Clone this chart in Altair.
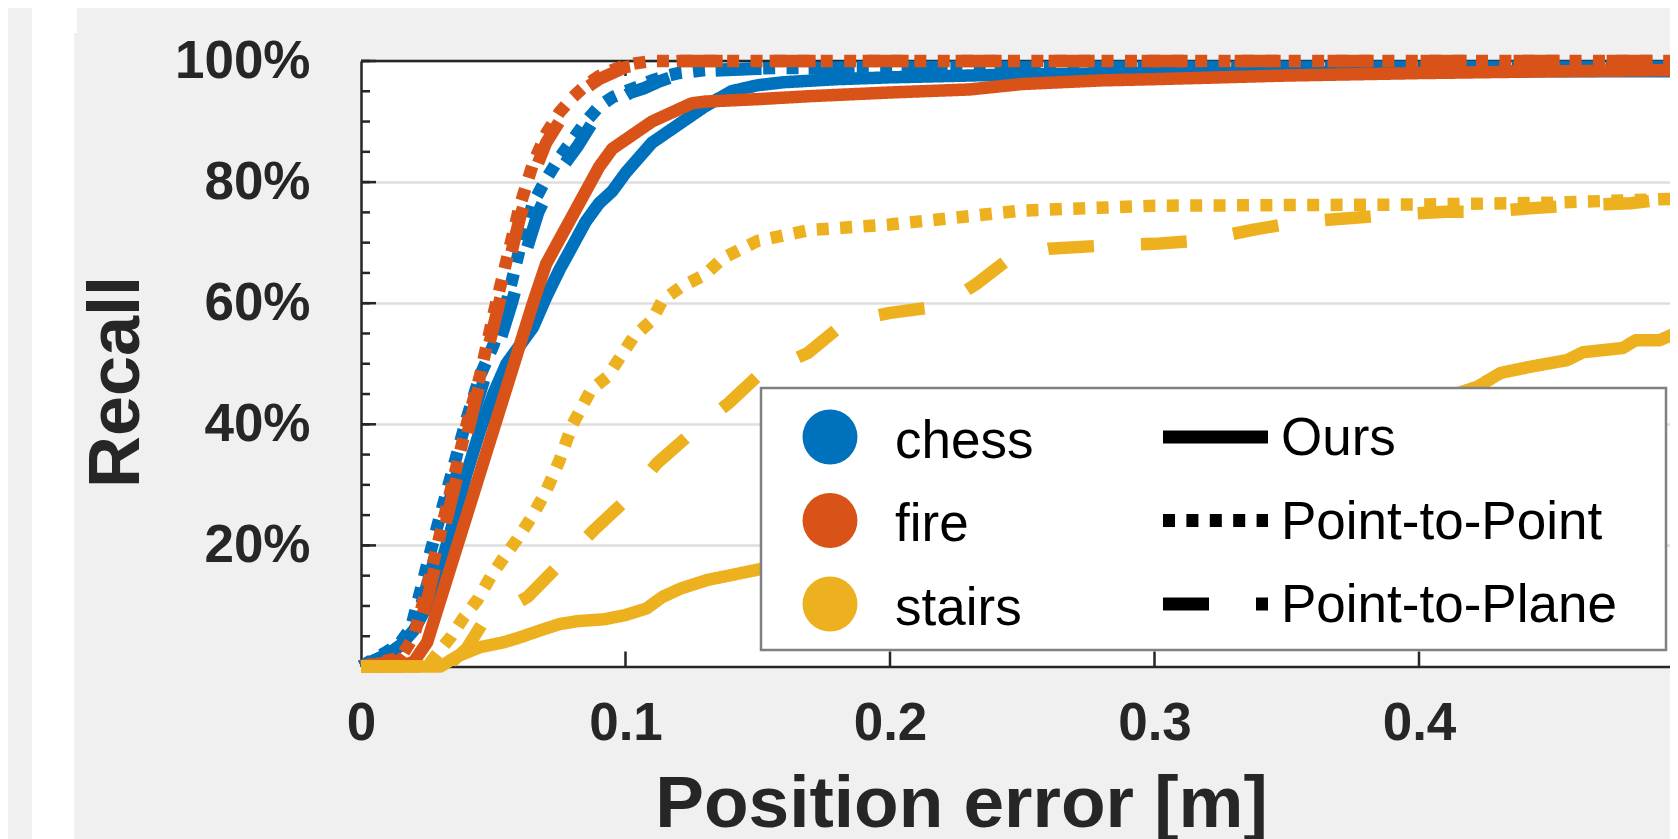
import altair as alt
import pandas as pd

# ---------------- data ----------------
DATASETS = ["chess", "fire", "stairs"]
METHODS = ["Ours", "Point-to-Point", "Point-to-Plane"]

chess_ours_x = [0, 0.01, 0.015, 0.02, 0.025, 0.03, 0.035, 0.04, 0.045, 0.05, 0.055, 0.06, 0.065, 0.07, 0.075,
                0.08, 0.085, 0.09, 0.095, 0.1, 0.105, 0.11, 0.115, 0.12, 0.125, 0.13, 0.14, 0.15, 0.16, 0.18,
                0.2, 0.25, 0.3, 0.35, 0.4, 0.45, 0.5]
chess_ours_y = [0, 2, 3.5, 6, 10, 16.5, 24, 32, 39, 45, 50, 53, 56, 61, 65.5,
                69.5, 73.5, 76.5, 78.5, 81.5, 84, 86.5, 88, 89.5, 91, 92.5, 95, 96, 96.5, 97,
                97.3, 97.8, 98, 98.1, 98.2, 98.3, 98.3]

chess_p2p_x = [0, 0.01, 0.015, 0.019, 0.0225, 0.026, 0.03, 0.035, 0.04, 0.045, 0.05, 0.055, 0.06, 0.065, 0.07,
               0.075, 0.08, 0.085, 0.09, 0.095, 0.1, 0.105, 0.11, 0.115, 0.12, 0.13, 0.15, 0.2, 0.3, 0.4, 0.5]
chess_p2p_y = [0, 2.5, 4, 6.5, 12.5, 18.5, 25, 33, 41, 48, 53, 60, 69, 76.5, 80.5,
               84, 87, 90, 92.5, 94, 95, 95.8, 96.8, 97.5, 98, 98.5, 98.8, 99, 99, 99, 99]

chess_p2pl_x = [0, 0.01, 0.015, 0.02, 0.024, 0.028, 0.032, 0.037, 0.042, 0.047, 0.052, 0.057, 0.062, 0.067,
                0.072, 0.077, 0.082, 0.087, 0.092, 0.097, 0.102, 0.107, 0.112, 0.117, 0.122, 0.132, 0.15, 0.2,
                0.3, 0.4, 0.5]
chess_p2pl_y = [0, 2, 3.5, 6, 12, 18, 25, 33, 41, 48, 53, 60, 68, 75, 79.5,
                83, 86, 89.5, 92, 93.5, 94.8, 95.5, 96.5, 97.3, 97.8, 98.4, 98.7, 98.9, 99, 99, 99]

fire_ours_x = [0, 0.015, 0.02, 0.025, 0.03, 0.035, 0.04, 0.045, 0.05, 0.055, 0.06, 0.065, 0.07, 0.075, 0.08,
               0.085, 0.09, 0.095, 0.1, 0.105, 0.11, 0.115, 0.12, 0.125, 0.13, 0.14, 0.15, 0.17, 0.2, 0.23,
               0.25, 0.28, 0.3, 0.35, 0.4, 0.45, 0.5]
fire_ours_y = [0, 0, 0.8, 4, 11, 18, 25, 32, 39, 46, 53, 60, 66.5, 70.5, 74.5,
               78.5, 82.5, 85.5, 87, 88.5, 90, 91, 92, 93, 93.3, 93.5, 93.7, 94.2, 94.8, 95.3,
               96.2, 96.8, 97, 97.6, 98, 98.3, 98.5]

fire_p2p_x = [0, 0.015, 0.02, 0.025, 0.03, 0.035, 0.04, 0.045, 0.05, 0.055, 0.06, 0.065, 0.07, 0.075, 0.08,
              0.085, 0.09, 0.095, 0.1, 0.105, 0.11, 0.2, 0.3, 0.4, 0.5]
fire_p2p_y = [0, 1.5, 5, 13, 22, 31, 40, 48, 58, 67, 76, 83, 88, 91.5, 94,
              96, 97.5, 98.5, 99.3, 99.7, 100, 100, 100, 100, 100]

fire_p2pl_x = [0, 0.015, 0.02, 0.025, 0.03, 0.035, 0.04, 0.045, 0.05, 0.055, 0.06, 0.065, 0.07, 0.075, 0.08,
               0.085, 0.09, 0.095, 0.1, 0.11, 0.12, 0.2, 0.3, 0.4, 0.5]
fire_p2pl_y = [0, 1, 4, 11, 20, 29, 38, 47, 56, 65, 74, 81, 86.5, 90, 93,
               95.5, 97, 98, 99, 99.7, 100, 100, 100, 100, 100]

stairs_ours_x = [0, 0.03, 0.036, 0.045, 0.054, 0.06, 0.068, 0.075, 0.082, 0.092, 0.1, 0.108, 0.114, 0.121,
                 0.131, 0.14, 0.15, 0.2, 0.25, 0.3, 0.35, 0.4, 0.422, 0.431, 0.442, 0.456, 0.462, 0.477,
                 0.482, 0.491, 0.5]
stairs_ours_y = [0, 0, 1.6, 3.2, 4, 4.8, 6, 7, 7.5, 7.8, 8.5, 9.6, 11.5, 12.9,
                 14.3, 15.1, 16, 20.5, 26, 31.5, 37, 43, 46.2, 48.5, 49.5, 50.6, 51.9, 52.6,
                 53.9, 53.9, 55.6]

stairs_p2p_x = [0, 0.025, 0.029, 0.034, 0.039, 0.044, 0.049, 0.054, 0.059, 0.065, 0.07, 0.075, 0.08, 0.087,
                0.093, 0.098, 0.103, 0.11, 0.114, 0.121, 0.13, 0.137, 0.15, 0.17, 0.2, 0.25, 0.3, 0.35,
                0.4, 0.45, 0.5]
stairs_p2p_y = [0, 0, 2.2, 4.9, 8.2, 11, 14.8, 18, 21, 25, 29, 34, 40, 45.7,
                47.8, 51.1, 54.4, 57.2, 60.5, 62.7, 64.7, 67.5, 70.3, 72.1, 73, 75.3, 76.1, 76.2,
                76.3, 76.6, 77.3]

stairs_p2pl_x = [0, 0.03, 0.035, 0.04, 0.046, 0.055, 0.063, 0.074, 0.08, 0.088, 0.099, 0.105, 0.112, 0.125,
                 0.139, 0.151, 0.16, 0.169, 0.181, 0.19, 0.2, 0.217, 0.225, 0.233, 0.247, 0.26, 0.28, 0.3,
                 0.318, 0.337, 0.354, 0.372, 0.39, 0.41, 0.425, 0.443, 0.461, 0.48, 0.5]
stairs_p2pl_y = [0, 0, 1, 3, 7.2, 9.5, 11.5, 16.4, 19, 22.5, 27, 30, 33.6, 38.6,
                 43.5, 48.4, 50, 51.8, 56.1, 57.5, 58.4, 59.4, 61, 63.3, 68, 69, 69.5, 69.8,
                 70.4, 72.1, 73.4, 74, 74.6, 75.1, 75.1, 75.7, 76.2, 76.5, 77.5]

SERIES = {
    ("chess", "Ours"): (chess_ours_x, chess_ours_y),
    ("chess", "Point-to-Point"): (chess_p2p_x, chess_p2p_y),
    ("chess", "Point-to-Plane"): (chess_p2pl_x, chess_p2pl_y),
    ("fire", "Ours"): (fire_ours_x, fire_ours_y),
    ("fire", "Point-to-Point"): (fire_p2p_x, fire_p2p_y),
    ("fire", "Point-to-Plane"): (fire_p2pl_x, fire_p2pl_y),
    ("stairs", "Ours"): (stairs_ours_x, stairs_ours_y),
    ("stairs", "Point-to-Point"): (stairs_p2p_x, stairs_p2p_y),
    ("stairs", "Point-to-Plane"): (stairs_p2pl_x, stairs_p2pl_y),
}

X_TICKS = [0, 0.1, 0.2, 0.3, 0.4]
X_TICK_MARKS = [0.1, 0.2, 0.3, 0.4]
Y_LABEL_TICKS = [20, 40, 60, 80, 100]
Y_MAJOR = [0, 20, 40, 60, 80, 100]
Y_MINOR = list(range(0, 101, 5))

# ---------------- styles / layout ----------------
COLORS = ["#0072BD", "#D95319", "#EDB120"]
DASHES = [[1, 0], [12, 11.4], [46, 47]]
INK = "#262626"
FONT = "Liberation Sans"
LW = 12.5

W = 1309
H = 605.5
PX_PER_UNIT = 2645.0
XMAX = W / PX_PER_UNIT
XRIGHT = 0.5 * PX_PER_UNIT  # right frame position (off-screen)

xscale = alt.Scale(domain=[0, XMAX], nice=False, zero=False)
yscale = alt.Scale(domain=[0, 100], nice=False, zero=False)

rows = []
for (ds, m), (xs, ys) in SERIES.items():
    for xv, yv in zip(xs, ys):
        rows.append({"dataset": ds, "method": m, "x": xv, "recall": yv})
df = pd.DataFrame(rows)

one = pd.DataFrame({"k": [0]})

X_AXIS = alt.Axis(
    values=X_TICKS, format=".1~f", ticks=False, tickSize=0, grid=False,
    domain=True, domainColor=INK, domainWidth=2.5,
    labelFont=FONT, labelFontWeight="bold", labelFontSize=53, labelColor=INK,
    labelPadding=31, labelFlush=False, labelOverlap=False,
    title="Position error [m]", titleFont=FONT, titleFontWeight="bold", titleFontSize=73,
    titleColor=INK, titleX=600, titleY=160, titleAlign="center", titleBaseline="alphabetic",
)
Y_AXIS = alt.Axis(
    values=Y_LABEL_TICKS, labelExpr="datum.value + '%'", ticks=False, tickSize=0,
    grid=True, gridColor="#dedede", gridWidth=2.5,
    domain=True, domainColor=INK, domainWidth=2.5,
    labelFont=FONT, labelFontWeight="bold", labelFontSize=53, labelColor=INK,
    labelPadding=51, labelOverlap=False, labelFlush=False,
    title="Recall", titleFont=FONT, titleFontWeight="bold", titleFontSize=72, titleColor=INK,
    titleX=-245, titleY=320.5, titleAngle=270, titleAlign="center", titleBaseline="middle",
)


def xenc():
    return alt.X("x:Q", scale=xscale, axis=X_AXIS)


def yenc():
    return alt.Y("recall:Q", scale=yscale, axis=Y_AXIS)


layers = []

# white page strip at the far left (part of the screenshot backdrop)
layers.append(
    alt.Chart(one).mark_rect(color="white").encode(
        x=alt.value(-329), x2=alt.value(-287), y=alt.value(-53), y2=alt.value(H + 190)
    )
)
layers.append(
    alt.Chart(one).mark_rect(color="white").encode(
        x=alt.value(-329), x2=alt.value(-284), y=alt.value(-53), y2=alt.value(-28)
    )
)

# inward ticks (MATLAB style)
layers.append(
    alt.Chart(pd.DataFrame({"recall": Y_MINOR})).mark_rule(color=INK, strokeWidth=2.5).encode(
        y=yenc(), x=alt.value(0), x2=alt.value(9))
)
layers.append(
    alt.Chart(pd.DataFrame({"recall": Y_MAJOR})).mark_rule(color=INK, strokeWidth=2.5).encode(
        y=yenc(), x=alt.value(0), x2=alt.value(15))
)
layers.append(
    alt.Chart(pd.DataFrame({"x": X_TICK_MARKS})).mark_rule(color=INK, strokeWidth=2.5).encode(
        x=xenc(), y=alt.value(H), y2=alt.value(H - 15))
)
layers.append(
    alt.Chart(pd.DataFrame({"x": X_TICK_MARKS})).mark_rule(color=INK, strokeWidth=2.5).encode(
        x=xenc(), y=alt.value(0), y2=alt.value(15))
)
# top frame line
layers.append(
    alt.Chart(one).mark_rule(color=INK, strokeWidth=2.5).encode(
        x=alt.value(0), x2=alt.value(XRIGHT), y=alt.value(0))
)

# data lines
for i, ds in enumerate(DATASETS):
    for j, m in enumerate(METHODS):
        layers.append(
            alt.Chart(df).transform_filter(
                (alt.datum.dataset == ds) & (alt.datum.method == m)
            ).mark_line(
                color=COLORS[i], strokeWidth=LW, strokeDash=DASHES[j],
                strokeCap="butt", strokeJoin="round",
            ).encode(
                x=xenc(),
                y=yenc(),
                order=alt.Order("x:Q"),
            )
        )

# legend (drawn by hand, MATLAB look)
LEG_X0, LEG_X1, LEG_Y0, LEG_Y1 = 400, 1305, 327, 589
ROW0, ROW_STEP = 376, 83.5
layers.append(
    alt.Chart(one).mark_rect(fill="white", stroke="#808080", strokeWidth=2.5).encode(
        x=alt.value(LEG_X0), x2=alt.value(LEG_X1), y=alt.value(LEG_Y0), y2=alt.value(LEG_Y1))
)
for i, ds in enumerate(DATASETS):
    cy = ROW0 + i * ROW_STEP
    layers.append(
        alt.Chart(one).mark_circle(size=3020, opacity=1, color=COLORS[i]).encode(
            x=alt.value(469), y=alt.value(cy))
    )
    layers.append(
        alt.Chart(pd.DataFrame({"label": [ds]})).mark_text(
            align="left", baseline="alphabetic", font=FONT, fontSize=53, color="black"
        ).encode(x=alt.value(534), y=alt.value(cy + 20.5), text="label:N")
    )
for j, m in enumerate(METHODS):
    cy = ROW0 + j * ROW_STEP
    layers.append(
        alt.Chart(one).mark_rule(color="black", strokeWidth=13, strokeDash=DASHES[j], strokeCap="butt").encode(
            x=alt.value(802), x2=alt.value(907), y=alt.value(cy))
    )
    layers.append(
        alt.Chart(pd.DataFrame({"label": [m]})).mark_text(
            align="left", baseline="alphabetic", font=FONT, fontSize=53, color="black"
        ).encode(x=alt.value(920), y=alt.value(cy + 18), text="label:N")
    )

chart = alt.layer(*layers).properties(
    width=W, height=H,
    autosize=alt.AutoSizeParams(type="none"),
    padding={"left": 353, "top": 53, "right": 0, "bottom": 172},
).configure(
    background="#f0f0f0", font=FONT,
).configure_view(
    fill="white", stroke=None,
)

chart.save("out.html", embed_options={"renderer": "svg", "actions": False})
